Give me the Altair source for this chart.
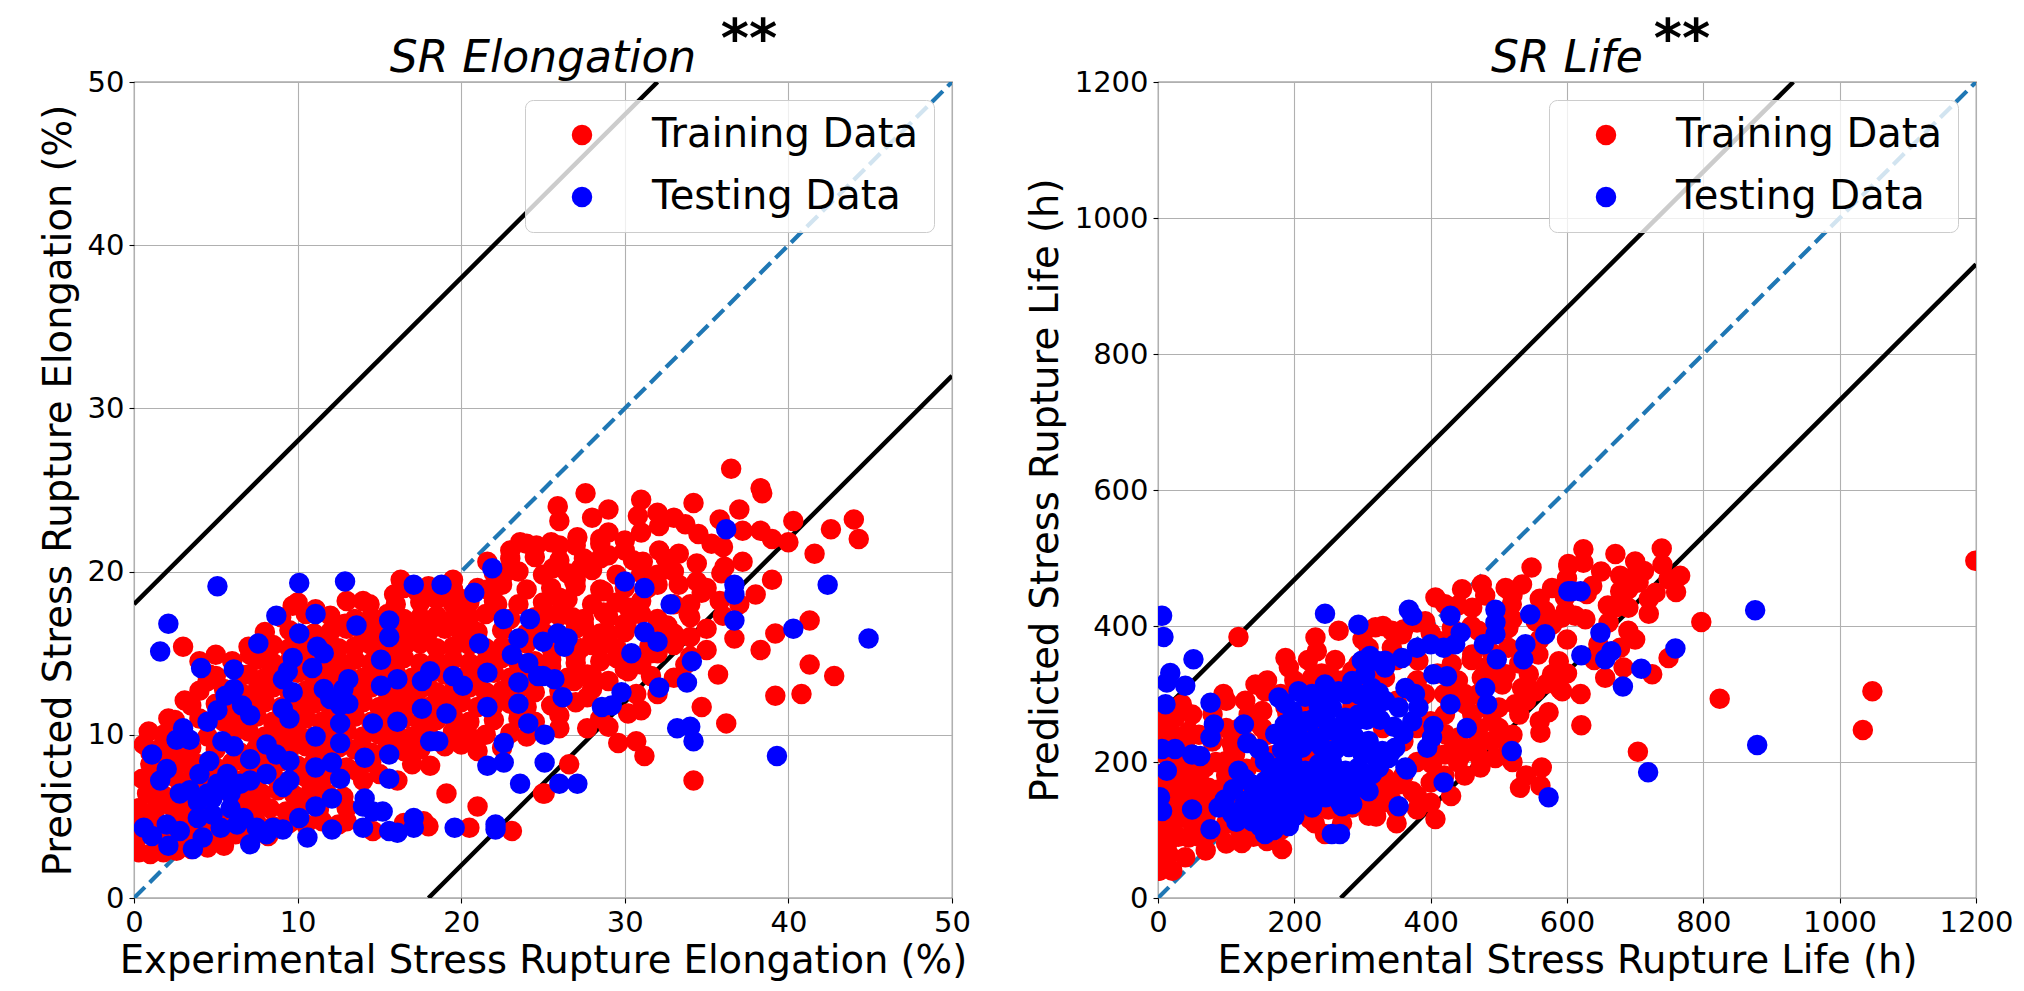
import altair as alt
import pandas as pd

# ---------------- data ----------------
EL_MAX, EL_STEP, EL_BAND = 50, 10, 18
LIFE_MAX, LIFE_STEP, LIFE_BAND = 1200, 200, 268

el_train = [
    (0.3,2.8),(1.0,2.7),(1.8,2.8),(2.6,2.9),(3.5,3.0),(4.5,3.1),(5.5,3.2),
    (0.2,3.7),(1.2,3.8),(2.2,3.6),(3.2,3.9),(4.2,3.8),(5.2,3.6),(6.2,3.9),(7.2,3.7),(8.2,3.8),
    (0.5,4.6),(1.5,4.5),(2.5,4.7),(3.5,4.6),(4.5,4.4),(5.5,4.7),(6.5,4.5),(7.5,4.6),(8.5,4.4),(9.5,4.6),(10.5,4.5),(11.5,4.7),(12.5,4.5),(16.5,4.6),(18.0,4.4),
    (0.3,5.5),(1.3,5.4),(2.3,5.6),(3.3,5.5),(4.3,5.3),(6.3,5.6),(7.3,5.4),(8.3,5.5),(9.3,5.3),(10.3,5.6),(11.3,5.4),(13.0,5.5),
    (0.8,6.4),(1.8,6.3),(2.8,6.5),(3.8,6.4),(4.8,6.2),(5.8,6.5),(6.8,6.3),(7.8,6.4),(8.8,6.6),(9.8,6.3),(10.8,6.5),(11.8,6.4),(12.8,6.2),
    (0.5,7.3),(1.5,7.2),(2.5,7.4),(3.5,7.3),(4.5,7.1),(5.5,7.4),(6.5,7.2),(7.5,7.3),(8.5,7.5),(9.5,7.2),(10.5,7.4),(11.5,7.3),(14.0,7.2),
    (1.0,8.2),(2.0,8.1),(3.0,8.3),(4.0,8.2),(5.0,8.0),(6.0,8.3),(7.0,8.1),(8.0,8.2),(9.0,8.4),(10.0,8.1),(11.0,8.3),(12.0,8.2),(13.0,8.0),(14.5,8.3),(17.0,8.2),
    (0.6,9.4),(0.9,10.2),(1.0,8.9),
    (1.5,9.1),(2.5,9.0),(3.5,9.2),(5.0,9.1),(6.5,8.9),(7.5,9.2),(8.5,9.0),(9.5,9.1),(10.5,9.3),(11.5,9.0),(12.5,9.2),(13.5,9.1),(14.5,8.9),(15.5,9.2),(16.5,9.0),(17.5,9.1),(19.0,9.3),(21.0,9.0),(22.5,9.2),
    (1.8,10.0),(3.0,10.1),(4.5,9.9),(6.0,10.0),(7.0,10.2),(8.0,9.9),(9.0,10.0),(10.0,10.1),(11.0,9.9),(12.0,10.0),(13.0,10.2),(14.0,9.9),(15.0,10.0),(16.0,10.1),(17.0,9.9),(18.0,10.0),(19.5,10.2),(20.5,9.9),(21.5,10.0),(23.0,10.1),(24.0,9.9),
    (2.5,10.9),(4.0,11.0),(5.5,10.8),(6.5,10.9),(7.5,11.1),(8.5,10.8),(9.5,10.9),(10.5,11.0),(11.5,10.8),(12.5,10.9),(13.5,11.1),(14.5,10.8),(15.5,10.9),(16.5,11.0),(17.5,10.8),(18.5,10.9),(19.5,11.1),(20.5,10.8),(22.0,10.9),(23.5,11.0),(24.5,10.8),
    (3.5,11.8),(5.0,11.9),(6.0,11.7),(7.0,11.8),(8.0,12.0),(9.0,11.7),(10.0,11.8),(11.0,11.9),(12.0,11.7),(13.0,11.8),(14.0,12.0),(15.0,11.7),(16.0,11.8),(17.0,11.9),(18.0,11.7),(19.0,11.8),(20.0,12.0),(21.0,11.7),(22.0,11.8),(23.0,11.9),(24.0,11.7),(25.5,11.8),
    (4.0,12.7),(5.5,12.8),(6.5,12.6),(7.5,12.7),(8.5,12.9),(9.5,12.6),(10.5,12.7),(11.5,12.8),(12.5,12.6),(13.5,12.7),(14.5,12.9),(15.5,12.6),(16.5,12.7),(17.5,12.8),(18.5,12.6),(19.5,12.7),(20.5,12.9),(21.5,12.6),(22.5,12.7),(23.5,12.8),(24.5,12.6),(26.0,12.7),
    (5.0,13.6),(7.0,13.7),(8.0,13.5),(9.0,13.6),(10.0,13.8),(11.0,13.5),(12.0,13.6),(13.0,13.7),(14.0,13.5),(15.0,13.6),(16.0,13.8),(17.0,13.5),(18.0,13.6),(19.0,13.7),(20.0,13.5),(21.0,13.6),(22.0,13.8),(23.0,13.5),(24.0,13.6),(25.0,13.7),(26.5,13.5),(28.0,13.6),
    (6.0,14.5),(7.5,14.6),(8.5,14.4),(9.5,14.5),(10.5,14.7),(11.5,14.4),(12.5,14.5),(13.5,14.6),(14.5,14.4),(15.5,14.5),(16.5,14.7),(17.5,14.4),(18.5,14.5),(19.5,14.6),(20.5,14.4),(21.5,14.5),(22.5,14.7),(23.5,14.4),(24.5,14.5),(25.5,14.6),(27.0,14.4),(28.5,14.5),(29.5,14.7),
    (7.0,15.4),(8.5,15.5),(9.5,15.3),(10.5,15.4),(11.5,15.6),(12.5,15.3),(13.5,15.4),(14.5,15.5),(15.5,15.3),(16.5,15.4),(17.5,15.6),(18.5,15.3),(19.5,15.4),(20.5,15.5),(21.5,15.3),(22.5,15.4),(24.0,15.6),(25.5,15.3),(26.5,15.4),(28.0,15.5),(29.5,15.3),(31.5,15.4),
    (8.0,16.3),(9.5,16.4),(11.0,16.2),(12.0,16.3),(13.0,16.5),(14.0,16.2),(15.0,16.3),(16.0,16.4),(17.0,16.2),(18.0,16.3),(19.0,16.5),(20.0,16.2),(21.0,16.3),(22.5,16.4),(24.0,16.2),(25.0,16.3),(27.0,16.5),(28.5,16.2),(30.0,16.3),(32.0,16.4),(33.0,16.2),
    (9.0,17.2),(12.0,17.3),(13.5,17.1),(14.5,17.2),(15.5,17.4),(16.5,17.1),(17.5,17.2),(18.5,17.3),(19.5,17.1),(20.5,17.2),(21.5,17.4),(23.0,17.1),(24.5,17.2),(26.0,17.3),(27.5,17.1),(29.0,17.2),(30.5,17.4),(32.0,17.1),(34.0,17.2),
    (10.0,18.1),(14.0,18.2),(16.0,18.0),(17.5,18.1),(18.5,18.3),(19.5,18.0),(20.5,18.1),(22.0,18.2),(23.5,18.0),(25.0,18.1),(26.5,18.3),(28.0,18.0),(29.5,18.1),(31.0,18.2),(33.0,18.0),
    (16.5,19.0),(18.0,19.1),(19.5,18.9),(21.0,19.0),(22.5,19.2),(24.0,18.9),(25.5,19.0),(27.0,19.1),(28.5,18.9),(30.0,19.0),(32.0,19.2),
    (22.0,19.9),(23.5,20.0),(25.0,19.8),(26.5,19.9),(28.0,20.1),(29.5,19.8),(31.0,19.9),
    (23.0,20.8),(24.5,20.9),(26.0,20.7),(27.5,20.8),(29.0,21.0),(30.5,20.7),(32.5,20.8),
    (24.0,21.7),(25.5,21.8),(27.0,21.6),(28.5,21.7),(30.0,21.9),
    (3.0,15.4),(5.0,14.9),(4.0,14.5),(9.7,17.9),(11.1,17.7),(10.5,17.4),(13.0,18.2),(12.9,16.8),(14.4,18.0),
    (16.3,19.5),(15.9,18.6),(17.3,18.8),(19.5,19.5),(21.6,20.6),(22.8,20.0),(23.6,21.8),(24.6,21.6),(23.0,21.3),
    (20.1,18.3),(19.9,17.2),(21.6,18.9),(22.2,18.0),(3.1,12.1),(2.1,11.0),(4.5,13.3),(4.6,13.7),(7.1,14.9),(6.5,13.7),(7.9,14.7),
    (16.4,9.5),(18.1,8.1),(20.0,9.4),(19.1,6.4),(21.0,5.6),(20.5,4.3),(23.1,4.1),(25.0,6.4),(15.0,7.6),(16.1,7.2),(13.6,7.8),(13.0,4.7),(14.6,4.1),(17.7,4.7),
    (36.5,26.3),(38.3,25.1),(38.4,24.8),(27.6,24.8),(31.0,24.4),(34.2,24.2),(25.9,24.0),(26.0,23.1),(30.8,23.4),(35.8,23.2),(40.3,23.1),(44.0,23.2),(42.6,22.6),(44.3,22.0),
    (33.7,22.9),(32.1,22.8),(37.2,22.5),(38.3,22.5),(34.5,22.3),(35.3,21.7),(31.0,22.4),(29.0,22.4),(27.1,22.1),(26.0,21.6),(28.5,22.0),(41.6,21.1),(37.2,20.6),(36.1,20.3),(35.9,19.9),
    (34.4,20.5),(33.3,21.1),(32.1,21.3),(31.1,20.6),(28.5,20.8),(27.3,20.2),(25.6,20.2),(26.9,19.4),(34.4,19.4),(34.7,18.7),(33.3,19.2),(31.4,19.0),(28.7,18.8),(26.0,18.4),(25.2,17.4),
    (35.8,18.2),(33.9,17.4),(32.6,16.7),(30.2,17.8),(31.0,17.4),(28.7,17.5),(26.8,17.2),(27.5,16.7),(30.1,16.7),(41.3,17.0),(39.2,16.2),(36.7,15.9),(38.3,15.2),(28.5,15.4),(27.3,15.3),
    (31.6,15.0),(29.8,14.7),(41.3,14.3),(42.8,13.6),(33.7,14.3),(35.7,13.7),(30.2,13.9),(31.6,13.6),(27.7,13.7),(26.9,13.3),(39.2,12.4),(40.8,12.5),(30.7,12.5),(27.7,12.3),(34.7,11.7),
    (30.2,11.3),(28.5,11.0),(36.2,10.7),(26.0,10.4),(27.7,10.4),(29.6,9.5),(30.7,9.6),(31.2,8.7),(26.6,8.2),(34.2,7.2),(25.1,6.4),
    (26.0,11.2),(27.0,12.0),(28.0,12.8),(29.0,13.3),(30.0,14.0),(31.0,14.3),(32.0,15.0),(33.0,15.5),(34.0,16.0),(35.0,16.5),
    (29.0,10.5),(31.0,11.5),(32.0,12.5),(33.0,13.5),(34.0,14.8),(35.0,15.2),(36.0,17.3),(37.0,18.0),(38.0,18.6),(39.0,19.5),
    (34.0,18.0),(35.0,19.0),(36.0,21.5),(39.0,22.0),(40.0,21.8),(33.0,20.0),(32.0,19.8),(30.0,21.3),(28.0,23.3),(29.0,23.8),
    (32.0,23.6),(33.0,23.3),(37.0,23.8),(27.0,19.5),(26.0,17.5),(28.0,15.8),(29.0,16.2),(30.0,16.8),(27.0,14.8),(25.5,14.2),
]

el_test = [
    (36.2,22.6),(30.0,19.4),(31.2,19.0),(36.7,19.2),(36.7,18.6),(32.8,18.0),(42.4,19.2),(36.7,17.0),(40.3,16.5),(44.9,15.9),
    (31.2,16.3),(32.0,15.7),(25.9,16.2),(26.5,15.9),(26.3,15.4),(25.0,15.7),(30.4,15.0),(34.1,14.5),(33.8,13.2),(32.1,12.9),
    (25.0,13.6),(25.7,13.4),(26.2,12.3),(29.8,12.6),(28.6,11.7),(29.2,11.8),(33.2,10.4),(34.0,10.5),(34.2,9.6),(39.3,8.7),
    (25.1,10.0),(25.1,8.3),(26.0,7.0),(27.1,7.0),
    (5.1,19.1),(10.1,19.3),(12.9,19.4),(17.1,19.2),(18.8,19.2),(21.9,20.2),(20.8,18.7),(2.1,16.8),(1.6,15.1),(8.7,17.3),
    (10.1,16.2),(11.1,17.4),(13.6,16.7),(15.6,17.0),(15.6,16.0),(22.6,17.1),(24.2,17.1),(7.6,15.6),(11.2,15.4),(11.6,15.0),
    (21.1,15.6),(23.5,15.9),(23.1,14.9),(24.1,14.4),(4.1,14.1),(6.1,14.0),(9.7,14.7),(9.4,13.9),(10.9,14.1),(9.1,13.4),
    (9.7,12.6),(13.1,13.4),(12.8,12.8),(11.6,12.8),(15.1,14.6),(15.1,13.0),(16.1,13.4),(17.6,13.3),(18.1,13.9),(19.5,13.6),
    (20.1,13.0),(21.6,13.8),(23.5,13.2),(24.7,13.6),(5.6,12.4),(6.1,12.8),(5.1,11.5),(4.5,10.8),(6.6,11.8),(7.1,11.2),
    (3.0,10.4),(2.6,9.7),(3.4,9.7),(9.1,11.6),(9.5,11.0),(12.0,12.2),(12.6,11.8),(13.1,11.9),(12.6,10.7),(12.6,9.5),
    (14.6,10.7),(16.1,10.8),(17.6,11.6),(19.1,11.3),(21.6,11.7),(23.5,11.9),(24.1,10.7),(11.1,9.9),(18.1,9.6),(18.6,9.6),
    (22.6,9.5),(1.1,8.8),(2.0,7.9),(1.6,7.2),(5.4,9.6),(6.1,9.3),(4.6,8.4),(4.0,7.6),(7.1,8.5),(8.1,9.4),
    (8.7,8.8),(9.5,8.4),(8.1,7.6),(9.1,6.8),(9.5,7.2),(11.1,8.0),(12.1,8.3),(12.6,7.3),(14.1,8.6),(15.6,8.8),
    (15.6,7.3),(21.6,8.1),(22.6,8.3),(23.6,7.0),(6.5,7.0),(7.1,7.2),(5.9,6.4),(3.4,6.6),(2.8,6.4),(3.9,5.9),
    (4.8,6.1),(12.1,6.1),(11.1,5.6),(14.1,6.1),(14.0,5.6),(14.6,5.3),(15.2,5.3),(10.1,4.9),(10.6,3.7),(9.1,4.2),
    (12.1,4.2),(14.0,4.3),(15.6,4.1),(16.1,4.0),(17.1,4.9),(17.1,4.3),(19.6,4.3),(22.1,4.5),(22.1,4.2),(0.6,4.3),
    (1.1,3.8),(2.0,4.5),(2.1,3.2),(2.8,4.1),(3.6,3.0),(4.2,3.7),(3.9,4.9),(4.8,5.1),(5.3,4.3),(5.9,5.5),
    (6.3,4.5),(7.1,3.3),(6.7,4.9),(7.5,4.3),(8.1,3.9),(8.5,4.3),(5.1,7.0),(4.5,6.4),(5.7,7.6),
]

life_train = [
    (118,384),(548,486),(602,491),(231,383),(233,363),(265,393),(187,353),(192,339),(319,398),(343,393),
    (96,300),(143,314),(157,304),(50,270),(133,270),(108,228),(21,241),(6,260),(11,45),(11,64),
    (16,84),(6,103),(25,113),(40,162),(55,182),(91,99),(123,81),(160,84),(182,72),(223,116),
    (245,94),(309,121),(333,177),(353,167),(407,116),(473,192),(495,206),(563,192),(561,165),(531,162),
    (561,243),(573,273),(590,307),(524,285),(461,270),(490,260),(431,216),(441,236),(402,197),
    (407,442),(446,454),(475,461),(510,456),(534,461),(578,456),(597,442),(421,432),(461,427),(519,432),
    (568,422),(592,412),(392,407),(431,397),(470,393),(514,397),(554,407),(578,402),(358,388),(412,378),
    (461,358),(514,368),(558,358),(588,348),(309,368),(343,368),(382,349),(431,344),(480,339),(510,329),
    (544,329),(578,329),(294,344),(333,324),(392,300),(441,304),(475,324),(505,314),(534,309),(554,304),
    (285,280),(421,270),(451,285),(470,250),(490,231),(446,211),(421,241),(421,211),(187,280),(197,260),
    (153,275),(128,290),(153,250),(69,192),(99,201),(74,162),(89,143),(113,211),(157,123),(177,148),
    (201,162),(226,148),(255,148),(285,133),(309,138),(333,162),(343,143),(373,157),(206,182),(216,211),
    (324,197),(285,334),(255,324),(226,324),
    (1,236),(11,211),(30,201),(35,172),(16,162),(1,182),(25,143),(1,123),(16,103),(35,133),
    (0,74),(16,64),(6,49),(21,40),(1,40),(45,89),(60,113),(65,148),(65,128),
    (2,40),(5,55),(8,70),(3,85),(10,95),(15,110),(4,120),(20,130),(8,140),(30,150),
    (12,160),(25,170),(5,180),(40,190),(18,200),(50,205),(8,215),(30,225),(15,240),(45,245),
    (5,260),(25,265),(10,280),(35,285),(60,175),(55,150),(70,120),(80,140),(90,160),(100,180),
    (85,200),(110,220),(120,250),(140,260),(160,240),(170,210),(130,190),(145,150),(110,140),(100,110),
    (75,95),(60,90),(120,100),(180,100),(200,130),(230,110),(250,130),(270,110),(300,140),(320,120),
    (350,130),(380,150),(400,170),(420,180),(440,200),(460,220),(380,200),(360,230),(400,260),(420,300),
    (450,300),(480,280),(500,250),(520,240),(540,290),(500,330),(460,350),(430,380),(400,390),(380,405),
    (360,395),(330,400),(300,380),(260,350),(240,330),(220,350),(200,320),(180,300),(160,320),(190,270),
    (230,250),(260,230),(300,220),(330,250),(350,290),(380,320),(410,330),(330,330),(300,310),(270,320),
    (250,290),(220,280),(290,270),(320,280),(350,350),(310,350),
    (624,513),(671,506),(739,514),(602,488),(624,493),(637,459),(629,447),(678,474),(695,471),(713,481),
    (705,464),(678,451),(690,454),(766,474),(749,469),(730,449),(671,427),(690,427),(720,418),(598,422),
    (612,415),(627,410),(661,405),(797,406),(690,393),(646,373),(678,368),(656,324),(683,339),(725,329),
    (749,353),(593,304),(824,293),(1048,304),(1034,247),(621,254),(704,215),(1199,496),
    (440,430),(480,445),(520,445),(560,440),(600,470),(650,480),(700,495),(740,490),(520,410),(560,380),
    (600,380),(460,400),(490,360),(530,345),(570,315),(600,330),(620,300),(640,350),(700,380),(660,430),
    (720,440),(760,450),(500,280),(470,300),(440,320),(530,270),(560,260),(510,230),(470,230),(450,180),
    (430,150),(400,140),(380,130),(350,110),(330,140),(360,180),(400,220),(380,250),(470,210),(520,200),
    (540,180),(100,250),(80,230),(60,240),(40,230),(100,290),(80,270),(130,230),(150,200),(120,160),
    (140,90),(100,80),(70,70),(40,60),(30,90),(50,110),
]

life_test = [
    (6,415),(8,384),(52,351),(18,331),(13,317),(40,312),(11,285),(77,287),(82,255),(77,236),
    (126,255),(131,228),(148,219),(6,219),(25,219),(50,211),(62,209),(13,187),(3,148),(6,128),
    (50,130),(77,101),(245,418),(294,402),(368,424),(373,415),(429,415),(495,424),(495,405),(495,388),
    (546,417),(568,388),(602,451),(444,390),(436,373),(478,373),(497,351),(539,373),(536,351),(404,329),
    (424,326),(380,368),(400,373),(419,368),(358,353),(333,349),(311,356),(299,349),(480,309),(483,285),
    (453,250),(519,216),(419,170),(365,189),(353,135),(573,148),(255,94),(267,94),(270,135),(285,138),
    (404,253),(402,236),(395,221),(429,285),(363,309),(377,300),(382,280),(373,260),(360,241),(343,216),
    (363,192),
    (206,304),(226,300),(245,314),(265,304),(285,319),(304,329),(324,348),(333,339),(294,300),(314,309),
    (177,295),(197,275),(216,260),(236,280),(255,280),(275,265),(294,270),(314,280),(333,290),(353,280),
    (172,241),(192,236),(211,221),(231,236),(250,246),(270,231),(289,236),(309,231),(329,216),(348,221),
    (157,201),(177,192),(197,201),(216,187),(236,197),(255,201),(275,187),(294,192),(314,182),(324,192),
    (118,187),(138,167),(157,172),(177,162),(197,167),(216,152),(236,172),(255,162),(275,152),(294,162),
    (309,157),(89,133),(109,123),(128,143),(148,128),(167,133),(187,123),(206,143),(226,133),(138,113),
    (157,94),(192,106),(177,113),
    (607,451),(620,451),(876,423),(649,390),(621,357),(665,363),(656,351),(759,367),(709,337),(682,311),
    (879,225),(719,185),
    (186,286),(216,296),(246,290),(276,300),(304,294),(324,302),(186,255),(206,252),(226,262),(246,262),
    (266,250),(286,255),(306,262),(326,262),(346,252),(182,218),(202,226),(222,230),(240,222),(260,218),
    (280,222),(300,212),(320,205),(338,206),(166,185),(186,180),(206,176),(226,180),(246,186),(266,176),
    (284,172),(304,175),(128,175),(148,150),(166,148),(186,140),(206,160),(226,160),(246,148),(266,142),
    (110,160),(98,145),(120,128),(140,135),(160,115),(180,128),(200,120),(150,105),(170,100),(115,112),
]

SERIES = ["Training Data", "Testing Data"]
SERIES_COLORS = ["#ff0000", "#0000ff"]
FONT = "DejaVu Sans"
PLOT_W, PLOT_H = 818, 816
MARK_SIZE = 420


def points_frame(train, test):
    rows = [{"x": x, "y": y, "set": SERIES[0]} for x, y in train]
    rows += [{"x": x, "y": y, "set": SERIES[1]} for x, y in test]
    return pd.DataFrame(rows)


def panel(train, test, dmax, step, band, title, xtitle, ytitle, star_x):
    ticks = list(range(0, dmax + 1, step))
    common_axis = dict(
        values=ticks, format="d", grid=True, gridColor="#b0b0b0", gridWidth=1.1,
        domain=False, ticks=True, tickColor="black", tickWidth=1.1, tickSize=5,
        labelFont=FONT, labelFontSize=29, labelColor="black", labelPadding=5,
        labelFlush=False, labelOverlap=False,
        titleFont=FONT, titleFontSize=38.5, titleFontWeight="normal", titleColor="black",
    )
    X = alt.X("x:Q", scale=alt.Scale(domain=[0, dmax], nice=False, zero=False),
              axis=alt.Axis(title=xtitle, titlePadding=5, **common_axis))
    Y = alt.Y("y:Q", scale=alt.Scale(domain=[0, dmax], nice=False, zero=False),
              axis=alt.Axis(title=ytitle, titlePadding=9, **common_axis))

    lines = pd.DataFrame({
        "x": [0, dmax - band, band, dmax],
        "y": [band, dmax, 0, dmax - band],
        "g": ["upper", "upper", "lower", "lower"],
    })
    diag = pd.DataFrame({"x": [0, dmax], "y": [0, dmax]})

    band_lines = alt.Chart(lines).mark_line(color="black", strokeWidth=4.5, clip=True).encode(
        x=X, y=Y, detail="g:N")
    diag_line = alt.Chart(diag).mark_line(color="#1f77b4", strokeWidth=4.2,
                                          strokeDash=[15.4, 6.7], clip=True).encode(x=X, y=Y)

    pts = alt.Chart(points_frame(train, test)).mark_circle(size=MARK_SIZE, opacity=1, clip=True).encode(
        x=X, y=Y,
        color=alt.Color("set:N",
                        scale=alt.Scale(domain=SERIES, range=SERIES_COLORS),
                        legend=alt.Legend(
                            title=None, orient="top-right", offset=18,
                            labelFont=FONT, labelFontSize=40, labelColor="black", labelLimit=600,
                            symbolType="circle", symbolSize=MARK_SIZE, symbolStrokeWidth=0,
                            symbolOffset=22, labelOffset=50, padding=15, rowPadding=22,
                            fillColor="rgba(255,255,255,0.8)", strokeColor="#cccccc",
                            cornerRadius=8)),
    )

    ttl = alt.Chart(pd.DataFrame({"s": [title]})).mark_text(
        font=FONT, fontSize=44, fontStyle="italic", color="black", align="center", baseline="alphabetic"
    ).encode(text="s:N", x=alt.value(PLOT_W / 2), y=alt.value(-10))

    star = alt.Chart(pd.DataFrame({"s": ["**"]})).mark_text(
        font=FONT, fontSize=54, fontWeight="bold", color="black", align="center", baseline="alphabetic"
    ).encode(text="s:N", x=alt.value(star_x), y=alt.value(-25))

    return alt.layer(band_lines, diag_line, pts, ttl, star).properties(width=PLOT_W, height=PLOT_H)


left = panel(el_train, el_test, EL_MAX, EL_STEP, EL_BAND, "SR Elongation",
             "Experimental Stress Rupture Elongation (%)",
             "Predicted Stress Rupture Elongation (%)", 615)
right = panel(life_train, life_test, LIFE_MAX, LIFE_STEP, LIFE_BAND, "SR Life",
              "Experimental Stress Rupture Life (h)",
              "Predicted Stress Rupture Life (h)", 524)

chart = alt.hconcat(left, right, spacing=53).resolve_scale(color="independent").properties(
    padding={"left": 38, "top": 13, "right": 5, "bottom": 5},
    background="white",
).configure_view(stroke="black", strokeWidth=1.1)

chart.save("out.html", embed_options={"renderer": "svg", "actions": False})
